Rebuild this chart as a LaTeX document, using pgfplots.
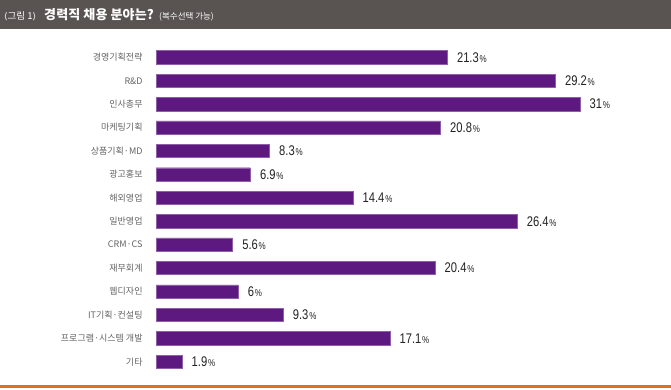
\documentclass[border=0pt]{standalone}
\usepackage{graphicx}
\usepackage{pgfplots}
\pgfplotsset{compat=1.18}
\usepackage{fontspec}
\setmainfont{Noto Sans CJK KR}
\newfontfamily\kr{Noto Sans CJK KR}
\newfontfamily\djfont{DejaVu Sans}
\newfontfamily\valfont{Liberation Sans}[FakeStretch=0.8]
\definecolor{barpurple}{RGB}{94,25,128}
\definecolor{headgray}{RGB}{89,84,82}
\definecolor{lineorange}{RGB}{224,112,28}
\definecolor{labgray}{RGB}{100,100,100}
\definecolor{valdark}{RGB}{35,35,35}
\begin{document}
\begin{tikzpicture}[x=1pt,y=1pt]
\fill[white] (0,0) rectangle (671,390);
\fill[headgray] (0,361) rectangle (671,390);
\fill[lineorange] (0,2) rectangle (671,5);
\node[anchor=base west, inner sep=0pt, text=white, font=\kr\fontsize{9.5}{10}\selectfont] at (4,370) {{\djfont\fontsize{9}{10}\selectfont ⟨}그림 1{\djfont\fontsize{9}{10}\selectfont ⟩}};
\node[anchor=base west, inner sep=0pt, text=white, font=\kr\bfseries\fontsize{13}{13}\selectfont] (t2) at (44,370) {\addfontfeatures{LetterSpace=1}경력직 채용 분야는?};
\node[anchor=base west, inner sep=0pt, text=white, font=\kr\fontsize{8.5}{9}\selectfont] at ([xshift=5pt]t2.base east) {(복수선택 가능)};
\begin{axis}[
  at={(156pt,344.4pt)}, anchor=north west,
  scale only axis, width=424pt, height=327.8pt,
  xmin=0, xmax=31, ymin=-0.5, ymax=13.5,
  y dir=reverse,
  xbar, bar width=13.3pt, bar shift=0pt,
  axis line style={draw=none},
  tick style={draw=none},
  xtick=\empty,
  ytick={0,...,13},
  yticklabels={경영기획전략,R\&D,인사총무,마케팅기획,상품기획·MD,광고홍보,해외영업,일반영업,CRM·CS,재무회계,웹디자인,IT기획·컨설팅,프로그램·시스템 개발,기타},
  y tick label style={anchor=east, inner sep=0pt, xshift=-9pt, text=labgray, font=\kr\fontsize{9}{10}\selectfont},
  clip=false,
  point meta=x,
  nodes near coords={\pgfmathprintnumber[assume math mode=true]{\pgfplotspointmeta}\kern0.8pt{\fontsize{10}{10}\selectfont\%}},
  nodes near coords style={anchor=west, inner sep=0pt, xshift=9.5pt, text=valdark, font=\valfont\fontsize{14}{14}\selectfont},
]
\addplot[fill=barpurple, draw=barpurple!70!white, line width=0.4pt] coordinates {
(21.3,0) (29.2,1) (31,2) (20.8,3) (8.3,4) (6.9,5) (14.4,6) (26.4,7) (5.6,8) (20.4,9) (6,10) (9.3,11) (17.1,12) (1.9,13)
};
\end{axis}
\end{tikzpicture}
\end{document}
